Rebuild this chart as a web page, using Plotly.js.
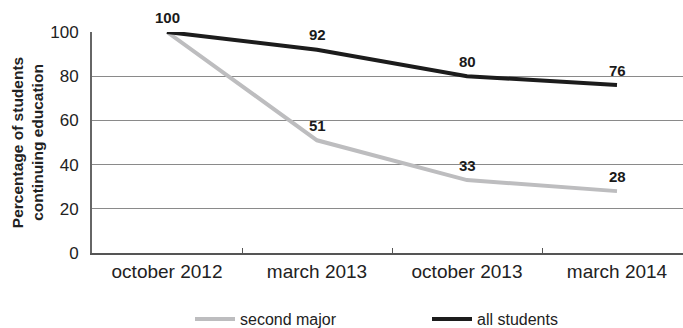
<!DOCTYPE html>
<html>
<head>
<meta charset="utf-8">
<script src="https://cdn.plot.ly/plotly-3.0.1.min.js"></script>
<style>html,body{margin:0;padding:0;background:#fff;}#chart{width:683px;height:328px;}</style>
</head>
<body>
<div id="chart"></div>
<script>
const categories = ["october 2012", "march 2013", "october 2013", "march 2014"];
const secondMajor = [100, 51, 33, 28];
const allStudents = [100, 92, 80, 76];
const yTicks = [0, 20, 40, 60, 80, 100];

const FONT = "Liberation Sans, Arial, Helvetica, sans-serif";

const traces = [
  {
    x: categories, y: secondMajor, name: "second major", type: "scatter", mode: "lines",
    line: {color: "#bdbdbf", width: 4}, cliponaxis: false
  },
  {
    x: categories, y: allStudents, name: "all students", type: "scatter", mode: "lines",
    line: {color: "#1c1c1c", width: 4}, cliponaxis: false
  }
];

const labelFont = {family: FONT, size: 15, color: "#1a1a1a", weight: "bold"};
const annotations = [];
allStudents.forEach((v, i) => {
  annotations.push({x: categories[i], y: v, xref: "x", yref: "y", text: String(v), showarrow: false,
    yshift: 15, font: labelFont});
});
secondMajor.forEach((v, i) => {
  if (i === 0) return;
  annotations.push({x: categories[i], y: v, xref: "x", yref: "y", text: String(v), showarrow: false,
    yshift: 15, font: labelFont});
});

const layout = {
  width: 683, height: 328,
  margin: {l: 92, r: 0, t: 32, b: 75, autoexpand: false},
  paper_bgcolor: "#fff", plot_bgcolor: "#fff",
  font: {family: FONT, color: "#222"},
  showlegend: true,
  legend: {
    orientation: "h", xref: "container", yref: "container",
    x: 190 / 683, xanchor: "left", y: 9 / 328, yanchor: "middle",
    font: {family: FONT, size: 16, color: "#222"},
    itemwidth: 40, entrywidth: 182, traceorder: "normal"
  },
  xaxis: {
    type: "category", range: [-0.5, 3.44],
    showline: true, linecolor: "#555", linewidth: 2,
    showgrid: false, zeroline: false,
    tickson: "boundaries", ticks: "inside", ticklen: 5, tickcolor: "#555", tickwidth: 1,
    tickfont: {family: FONT, size: 19, color: "#222"}
  },
  yaxis: {
    range: [0, 100], tickvals: yTicks, ticktext: yTicks.map(String),
    showline: true, linecolor: "#666", linewidth: 2,
    showgrid: true, gridcolor: "#8a8a8a", gridwidth: 1, zeroline: false,
    ticks: "", ticklabelstandoff: 8,
    tickfont: {family: FONT, size: 17, color: "#222"},
    title: {text: "Percentage of students<br>continuing education", standoff: 3,
      font: {family: FONT, size: 15.5, color: "#222", weight: "bold"}}
  },
  annotations: annotations
};

Plotly.newPlot("chart", traces, layout, {displayModeBar: false, staticPlot: true});
</script>
</body>
</html>
